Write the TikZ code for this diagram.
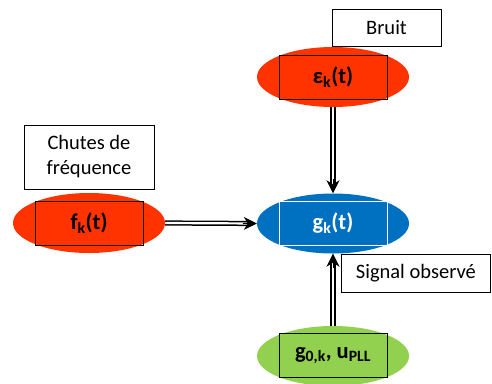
\documentclass[tikz,border=0pt]{standalone}
\usepackage{fontspec}
\setmainfont{Carlito}
\usetikzlibrary{arrows.meta,shapes.geometric,calc}
\definecolor{redfill}{RGB}{255,51,0}
\definecolor{bluefill}{RGB}{0,112,192}
\definecolor{greenfill}{RGB}{146,208,80}
\tikzset{
  ell/.style={ellipse, draw=none, minimum width=152pt, minimum height=60pt, inner sep=0pt},
  inrect/.style={draw=black, line width=1pt, minimum width=108pt, minimum height=44pt, inner sep=0pt, font=\fontsize{22.5}{26}\selectfont\bfseries},
  lbl/.style={draw=black, line width=0.8pt, fill=white, inner sep=0pt, align=center, font=\fontsize{20.5}{25}\selectfont},
  shaft/.style={double, double distance=2.2pt, line width=1.5pt, shorten >=9pt},
  tip/.style={line width=1pt, -{Stealth[length=13pt,width=13pt,inset=4pt]}},
}
\newcommand{\dblarrow}[2]{%
  \draw[shaft] (#1) -- (#2);
  \draw[tip] ($(#2)!14pt!(#1)$) -- (#2);}
\begin{document}
\begin{tikzpicture}[x=1pt,y=-1pt]
\useasboundingbox (0,0) rectangle (492,383);
% labels
\node[lbl, minimum width=109pt, minimum height=37pt] (bruit) at (386.5,27.5) {Bruit};
\node[lbl, minimum width=130pt, minimum height=64pt] (chutes) at (89,157) {Chutes de\\fréquence};
% ellipses
\node[ell, fill=redfill] (eps) at (333,77) {};
\node[inrect] (epsr) at (333,77) {ε\textsubscript{k}(t)};
\node[ell, fill=redfill] (f) at (89,223) {};
\node[inrect] (fr) at (89,223.5) {f\textsubscript{k}(t)};
\node[ell, fill=bluefill] (g) at (333,223.5) {};
\node[inrect, draw=white, text=white] (gr) at (333,223.5) {g\textsubscript{k}(t)};
\node[lbl, minimum width=149pt, minimum height=38pt, anchor=north west] (sig) at (341,254) {Signal observé};
\node[ell, fill=greenfill] (h) at (333,356) {};
\node[inrect] (hr) at (333,355.5) {g\textsubscript{0,k}, u\textsubscript{PLL}};
% arrows
\dblarrow{eps.south}{g.north}
\dblarrow{f.east}{g.west}
\dblarrow{h.north}{g.south}
\end{tikzpicture}
\end{document}
